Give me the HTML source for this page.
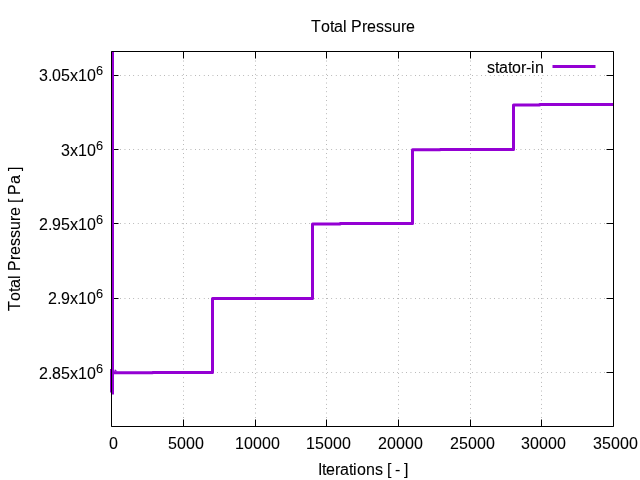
<!DOCTYPE html>
<html><head><meta charset="utf-8"><title>Total Pressure</title>
<style>
html,body{margin:0;padding:0;background:#fff;}
body{width:640px;height:480px;overflow:hidden;}
svg{display:block;will-change:transform;font-family:"Liberation Sans",sans-serif;font-size:16px;fill:#000;font-kerning:none;}
svg text{stroke:#000;stroke-width:0.08px;}
</style></head><body>
<svg width="640" height="480" viewBox="0 0 640 480">
<rect width="640" height="480" fill="#fff"/>
<g stroke="#000" stroke-width="0.5" stroke-dasharray="0.55,3.85" fill="none"><line x1="183.5" y1="426.5" x2="183.5" y2="51.5"/><line x1="255.5" y1="426.5" x2="255.5" y2="51.5"/><line x1="326.5" y1="426.5" x2="326.5" y2="51.5"/><line x1="398.5" y1="426.5" x2="398.5" y2="51.5"/><line x1="470.5" y1="426.5" x2="470.5" y2="51.5"/><line x1="541.5" y1="426.5" x2="541.5" y2="51.5"/><line x1="111.5" y1="372.5" x2="613.5" y2="372.5"/><line x1="111.5" y1="298.5" x2="613.5" y2="298.5"/><line x1="111.5" y1="223.5" x2="613.5" y2="223.5"/><line x1="111.5" y1="149.5" x2="613.5" y2="149.5"/><line x1="111.5" y1="75.5" x2="613.5" y2="75.5"/></g>
<rect x="484" y="52" width="116" height="23" fill="#fff"/>
<g stroke="#000" stroke-width="1" fill="none"><line x1="111.5" y1="426.5" x2="111.5" y2="419.5"/><line x1="111.5" y1="51.5" x2="111.5" y2="58.5"/><line x1="183.5" y1="426.5" x2="183.5" y2="419.5"/><line x1="183.5" y1="51.5" x2="183.5" y2="58.5"/><line x1="255.5" y1="426.5" x2="255.5" y2="419.5"/><line x1="255.5" y1="51.5" x2="255.5" y2="58.5"/><line x1="326.5" y1="426.5" x2="326.5" y2="419.5"/><line x1="326.5" y1="51.5" x2="326.5" y2="58.5"/><line x1="398.5" y1="426.5" x2="398.5" y2="419.5"/><line x1="398.5" y1="51.5" x2="398.5" y2="58.5"/><line x1="470.5" y1="426.5" x2="470.5" y2="419.5"/><line x1="470.5" y1="51.5" x2="470.5" y2="58.5"/><line x1="541.5" y1="426.5" x2="541.5" y2="419.5"/><line x1="541.5" y1="51.5" x2="541.5" y2="58.5"/><line x1="613.5" y1="426.5" x2="613.5" y2="419.5"/><line x1="613.5" y1="51.5" x2="613.5" y2="58.5"/><line x1="111.5" y1="372.5" x2="118.5" y2="372.5"/><line x1="613.5" y1="372.5" x2="606.5" y2="372.5"/><line x1="111.5" y1="298.5" x2="118.5" y2="298.5"/><line x1="613.5" y1="298.5" x2="606.5" y2="298.5"/><line x1="111.5" y1="223.5" x2="118.5" y2="223.5"/><line x1="613.5" y1="223.5" x2="606.5" y2="223.5"/><line x1="111.5" y1="149.5" x2="118.5" y2="149.5"/><line x1="613.5" y1="149.5" x2="606.5" y2="149.5"/><line x1="111.5" y1="75.5" x2="118.5" y2="75.5"/><line x1="613.5" y1="75.5" x2="606.5" y2="75.5"/></g>
<path d="M112.5,51.5 L112.5,394.5 M111.5,369 L111.5,392.5 M112.5,372.75 L152.5,372.75 L152.5,372.5 L212.5,372.5 L212.5,298.4 L240,298.4 L240,298.5 L312.5,298.5 L312.5,223.95 L340,223.95 L340,223.5 L412.5,223.5 L412.5,149.65 L440,149.65 L440,149.5 L513.5,149.5 L513.5,105 L539.5,105 L539.5,104.5 L613.5,104.5" stroke="#9400d3" stroke-width="3" fill="none" stroke-linejoin="round"/><path d="M114,371.5 L115,369.3 L117.6,371.5 Z" fill="#9400d3"/>
<line x1="552.5" y1="66.5" x2="595.5" y2="66.5" stroke="#9400d3" stroke-width="3"/>
<path d="M111.5,51.5 L111.5,426.5 L613.5,426.5 L613.5,51.5 L111.5,51.5" fill="none" stroke="#000" stroke-width="1" stroke-linejoin="miter"/>
<text x="109" y="449">0</text>
<text x="168 177 186 195" y="449">5000</text>
<text x="235 244 253 262 271" y="449">10000</text>
<text x="306 315 324 333 342" y="449">15000</text>
<text x="378 387 396 405 414" y="449">20000</text>
<text x="450 459 468 477 486" y="449">25000</text>
<text x="521 530 539 548 557" y="449">30000</text>
<text x="593 602 611 620 629" y="449">35000</text>
<text x="39 48 52 61 70 78 87" y="81">3.05x10</text><text x="96" y="75" font-size="12.8">6</text>
<text x="61 70 78 87" y="156">3x10</text><text x="96" y="150" font-size="12.8">6</text>
<text x="39 48 52 61 70 78 87" y="230">2.95x10</text><text x="96" y="224" font-size="12.8">6</text>
<text x="48 57 61 70 78 87" y="304">2.9x10</text><text x="96" y="298" font-size="12.8">6</text>
<text x="39 48 52 61 70 78 87" y="379">2.85x10</text><text x="96" y="373" font-size="12.8">6</text>
<text x="311 321 330 334 343 347 351 362 367 376 384 392 401 406" y="32">Total Pressure</text>
<text x="318 322 326 335 340 349 353 357 366 375 383 387 391 395 400 404" y="475">Iterations [ - ]</text>
<text x="487 495 499 508 512 521 526 531 535" y="73">stator-in</text>
<g transform="translate(19.5,239) rotate(-90)"><text x="-72 -62 -53 -49 -40 -36 -32 -21 -16 -7 1 9 18 23 32 36 40 44 55 64 68" y="0">Total Pressure [ Pa ]</text></g>
</svg>
</body></html>
